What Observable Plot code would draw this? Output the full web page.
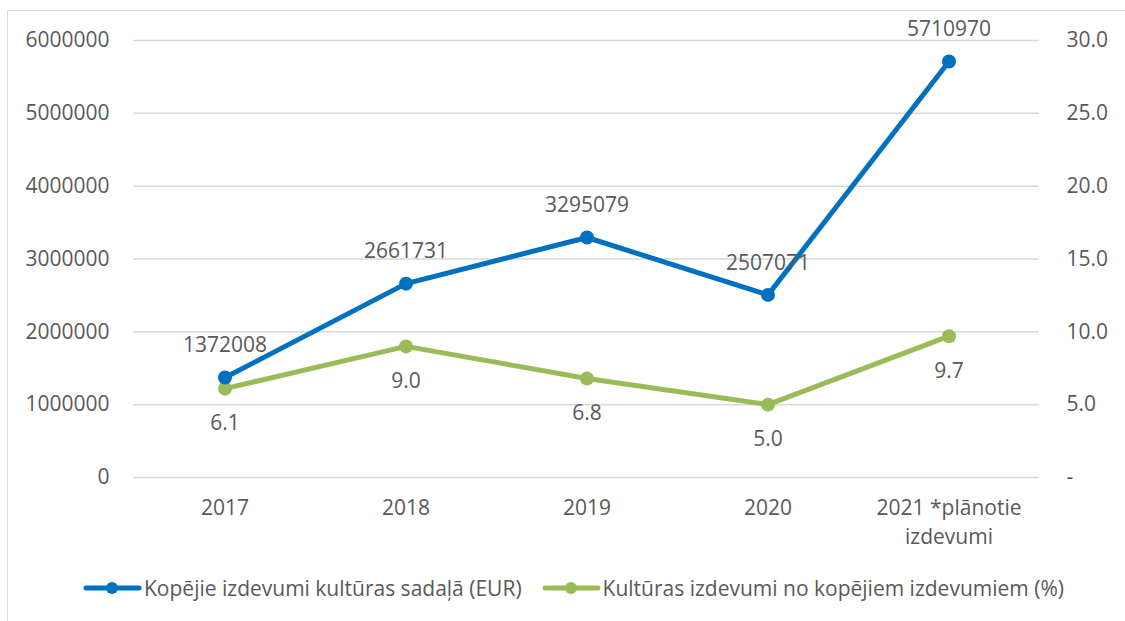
<!DOCTYPE html>
<html>
<head>
<meta charset="utf-8">
<script src="https://cdn.jsdelivr.net/npm/d3@7"></script>
<script src="https://cdn.jsdelivr.net/npm/@observablehq/plot@0.6"></script>
<style>
  html, body { margin: 0; padding: 0; background: #fff; }
  body { width: 1125px; height: 621px; position: relative; overflow: hidden; font-family: "Open Sans", sans-serif; }
  #frame { position: absolute; left: 7px; top: 10px; width: 1130px; height: 620px; border: 1.5px solid #d9d9d9; box-sizing: border-box; }
  #chart { position: absolute; left: 0; top: 0; }
  #legend { position: absolute; left: 83px; top: 574px; display: flex; align-items: center; font-size: 21px; color: #595959; white-space: nowrap; }
  #legend .item { display: flex; align-items: center; margin-right: 20px; }
  #legend svg { margin-right: 2px; }
</style>
</head>
<body>
<div id="frame"></div>
<div id="chart"></div>
<div id="legend"></div>
<script>
const categories = ["2017", "2018", "2019", "2020", "2021 *plānotie\nizdevumi"];
const totalEUR = [1372008, 2661731, 3295079, 2507071, 5710970];
const culturePct = [6.1, 9.0, 6.8, 5.0, 9.7];
const leftTicks = [0, 1000000, 2000000, 3000000, 4000000, 5000000, 6000000];
const rightTickLabels = ["-", "5.0", "10.0", "15.0", "20.0", "25.0", "30.0"];
const seriesNames = ["Kopējie izdevumi kultūras sadaļā (EUR)", "Kultūras izdevumi no kopējiem izdevumiem (%)"];
const seriesColors = ["#0070C0", "#9BBB59"];
const rightScaleFactor = 6000000 / 30; // right axis 0–30 aligned to left 0–6,000,000

const rows = categories.map((c, i) => ({cat: c, eur: totalEUR[i], pct: culturePct[i]}));

const textColor = "#595959";
const chart = Plot.plot({
  width: 1125,
  height: 560,
  marginLeft: 133,
  marginRight: 86,
  marginTop: 40,
  marginBottom: 83,
  style: {fontFamily: "'Open Sans', sans-serif", fontSize: "21px", color: textColor, background: "transparent"},
  x: {type: "band", domain: categories, padding: 0},
  y: {domain: [0, 6000000]},
  marks: [
    Plot.ruleY(leftTicks, {stroke: "#d9d9d9", strokeWidth: 1.5}),
    Plot.axisY(leftTicks, {anchor: "left", tickSize: 0, tickPadding: 24, tickFormat: d => String(d), fill: textColor, fontSize: 21, label: null}),
    Plot.axisY(leftTicks, {anchor: "right", tickSize: 0, tickPadding: 27, tickFormat: (d, i) => rightTickLabels[i], fill: textColor, fontSize: 21, textAnchor: "start", label: null}),
    Plot.axisX({tickSize: 0, tickPadding: 17, lineHeight: 1.38, fill: textColor, fontSize: 21, label: null}),
    Plot.line(rows, {x: "cat", y: d => d.pct * rightScaleFactor, stroke: seriesColors[1], strokeWidth: 5}),
    Plot.dot(rows, {x: "cat", y: d => d.pct * rightScaleFactor, fill: seriesColors[1], r: 7}),
    Plot.line(rows, {x: "cat", y: "eur", stroke: seriesColors[0], strokeWidth: 5}),
    Plot.dot(rows, {x: "cat", y: "eur", fill: seriesColors[0], r: 7}),
    Plot.text(rows, {x: "cat", y: "eur", text: d => String(d.eur), dy: -32, fill: textColor, fontSize: 21}),
    Plot.text(rows, {x: "cat", y: d => d.pct * rightScaleFactor, text: d => d.pct.toFixed(1), dy: 35, fill: textColor, fontSize: 21})
  ]
});
document.getElementById("chart").appendChild(chart);

const legend = document.getElementById("legend");
seriesNames.forEach((name, i) => {
  const item = document.createElement("div");
  item.className = "item";
  item.innerHTML = `<svg width="59" height="16"><line x1="3" y1="8" x2="56" y2="8" stroke="${seriesColors[i]}" stroke-width="5" stroke-linecap="round"/><circle cx="29" cy="8" r="6" fill="${seriesColors[i]}"/></svg><span>${name}</span>`;
  legend.appendChild(item);
});
</script>
</body>
</html>
